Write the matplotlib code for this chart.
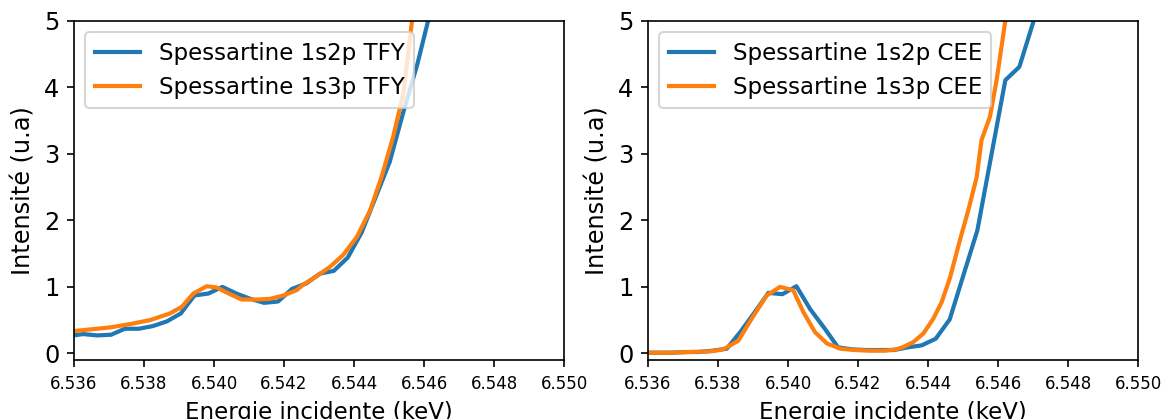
import matplotlib
matplotlib.use("Agg")
import matplotlib.pyplot as plt

# Grille en energie (keV) des mesures 1s2p
e_1s2p = [6.53586, 6.53626, 6.53666, 6.53706, 6.53745, 6.53785, 6.53825,
          6.53865, 6.53905, 6.53944, 6.53984, 6.54024, 6.54064, 6.54104,
          6.54143, 6.54183, 6.54223, 6.54263, 6.54303, 6.54342, 6.54382,
          6.54422, 6.54462, 6.54502, 6.54541, 6.54581, 6.54621, 6.54661,
          6.54700, 6.54740]

tfy_1s2p = [0.26, 0.29, 0.27, 0.28, 0.37, 0.37, 0.41, 0.48, 0.60, 0.87,
            0.90, 1.00, 0.90, 0.82, 0.76, 0.78, 0.97, 1.05, 1.20, 1.24,
            1.44, 1.82, 2.35, 2.88, 3.63, 4.35, 5.20, 6.0, 6.8, 7.6]

cee_1s2p = [0.01, 0.01, 0.01, 0.02, 0.02, 0.04, 0.07, 0.33, 0.62, 0.91,
            0.89, 1.01, 0.66, 0.38, 0.09, 0.06, 0.05, 0.05, 0.05, 0.09,
            0.12, 0.22, 0.51, 1.19, 1.85, 2.98, 4.11, 4.31, 4.97, 5.80]

# Mesures 1s3p TFY
e_tfy_1s3p = [6.53589, 6.53646, 6.53703, 6.53760, 6.53817, 6.53874, 6.53908,
              6.53941, 6.53979, 6.54008, 6.54046, 6.54079, 6.54122, 6.54160,
              6.54198, 6.54236, 6.54254, 6.54293, 6.54331, 6.54369, 6.54408,
              6.54446, 6.54479, 6.54512, 6.54541, 6.54565, 6.54583]
tfy_1s3p = [0.33, 0.36, 0.39, 0.44, 0.50, 0.60, 0.70, 0.90, 1.01, 0.99,
            0.89, 0.81, 0.81, 0.82, 0.87, 0.95, 1.03, 1.16, 1.30, 1.48,
            1.75, 2.15, 2.66, 3.26, 3.91, 4.97, 5.60]

# Mesures 1s3p CEE
e_cee_1s3p = [6.53589, 6.53663, 6.53720, 6.53777, 6.53815, 6.53858, 6.53896,
              6.53939, 6.53977, 6.54015, 6.54044, 6.54077, 6.54111, 6.54149,
              6.54191, 6.54234, 6.54277, 6.54309, 6.54329, 6.54358, 6.54387,
              6.54415, 6.54439, 6.54463, 6.54491, 6.54515, 6.54539, 6.54553,
              6.54577, 6.54596, 6.54620, 6.54640]
cee_1s3p = [0.01, 0.01, 0.02, 0.03, 0.06, 0.19, 0.52, 0.87, 1.00, 0.95,
            0.62, 0.32, 0.15, 0.07, 0.05, 0.04, 0.04, 0.06, 0.095, 0.17,
            0.30, 0.52, 0.77, 1.14, 1.70, 2.15, 2.65, 3.21, 3.56, 4.11,
            4.97, 5.60]

x_ticks = [6.536, 6.538, 6.540, 6.542, 6.544, 6.546, 6.548, 6.550]
x_tick_labels = ["6.536", "6.538", "6.540", "6.542", "6.544", "6.546", "6.548", "6.550"]

fig = plt.figure(figsize=(1161 / 150, 419 / 150), dpi=150)
ax1 = fig.add_axes([74 / 1161, 59 / 419, 490 / 1161, 339 / 419])
ax2 = fig.add_axes([648 / 1161, 59 / 419, 490 / 1161, 339 / 419])

ax1.plot(e_1s2p, tfy_1s2p, lw=2, label="Spessartine 1s2p TFY")
ax1.plot(e_tfy_1s3p, tfy_1s3p, lw=2, label="Spessartine 1s3p TFY")

ax2.plot(e_1s2p, cee_1s2p, lw=2, label="Spessartine 1s2p CEE")
ax2.plot(e_cee_1s3p, cee_1s3p, lw=2, label="Spessartine 1s3p CEE")

for ax in (ax1, ax2):
    ax.set_xlim(6.536, 6.550)
    ax.set_ylim(-0.1, 5)
    ax.set_xticks(x_ticks)
    ax.set_xticklabels(x_tick_labels, fontsize=8)
    ax.set_yticks([0, 1, 2, 3, 4, 5])
    ax.tick_params(axis="y", labelsize=11.5)
    ax.set_xlabel("Energie incidente (keV)", fontsize=11)
    ax.set_ylabel("Intensité (u.a)", fontsize=11.5)
    ax.legend(loc="upper left", fontsize=11)

fig.savefig("out.png", dpi=150)
